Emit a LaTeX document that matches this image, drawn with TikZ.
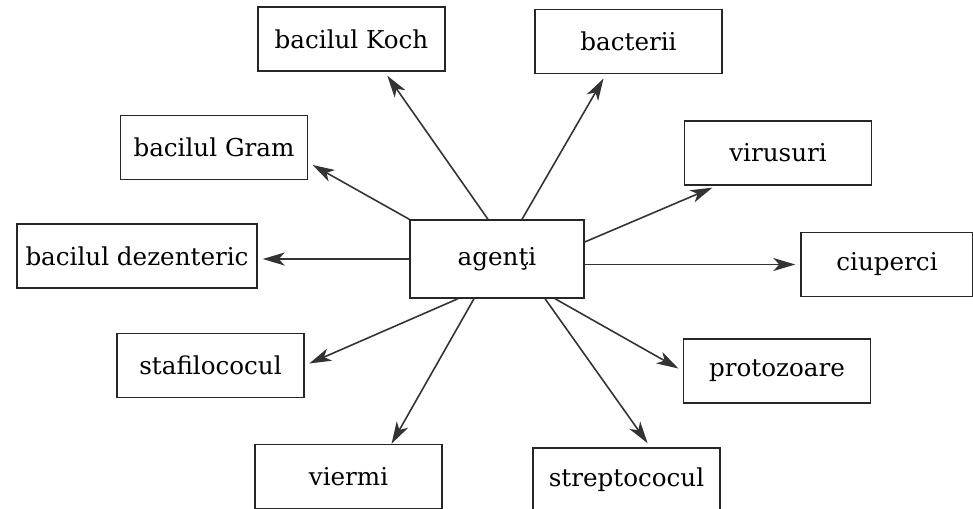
\documentclass[tikz,border=0pt]{standalone}
\usepackage{fontspec}
\setmainfont{DejaVu Serif}
\usetikzlibrary{arrows.meta,calc}

\begin{document}
\begin{tikzpicture}[x=0.2mm, y=-0.2mm, >={Stealth[length=4.4mm,width=2.6mm,inset=1.2mm]},
    font=\fontsize{14}{16}\selectfont,
    box/.style={draw=black!85, line width=0.8pt, minimum width=37.4mm, minimum height=12.8mm, inner sep=0pt},
    link/.style={->, draw=black!80, line width=0.9pt, shorten >=1mm}]
        \useasboundingbox (0,0) rectangle (973,509);
        % centre
        \node[box, minimum width=34.8mm, minimum height=15.6mm] (agenti) at (497,259) {agenţi};
        % top row
        \node[box] (koch) at (351.5,39) {bacilul Koch};
        \node[box] (bacterii) at (628.5,41.5) {bacterii};
        \node[box] (gram) at (214,147.5) {bacilul Gram};
        \node[box] (virusuri) at (778,153) {virusuri};
        % middle row
        \node[box, minimum width=48mm] (dezenteric) at (137,256) {bacilul dezenteric};
        \node[box, minimum width=34.4mm] (ciuperci) at (887,264.5) {ciuperci};
        % bottom row
        \node[box] (stafilo) at (210.5,365.5) {stafilococul};
        \node[box] (protozoare) at (777,371) {protozoare};
        \node[box] (viermi) at (348.5,476.5) {viermi};
        \node[box] (strepto) at (626.5,480) {streptococul};
        % arrows out of the centre
        \draw[link] ($(agenti.north)+(-9,0)$) -- ($(koch.south)+(33,0)$);
        \draw[link] ($(agenti.north)+(25,0)$) -- ($(bacterii.south)+(-22.5,0)$);
        \draw[link] (agenti.north west) -- ($(gram.east)+(0,15)$);
        \draw[link] ($(agenti.east)+(0,-17)$) -- ($(virusuri.south)+(-61,0)$);
        \draw[link] (agenti.east |- ciuperci.west) -- (ciuperci.west);
        \draw[link] (agenti.west) -- (agenti.west -| dezenteric.east);
        \draw[link] ($(agenti.south)+(-39,0)$) -- (stafilo.east);
        \draw[link, shorten >=0pt] ($(agenti.south)+(-23,0)$) -- ($(viermi.north)+(43,0)$);
        \draw[link] ($(agenti.south)+(48,0)$) -- ($(strepto.north)+(24,0)$);
        \draw[link] ($(agenti.south)+(58,0)$) -- (protozoare.west);
\end{tikzpicture}
\end{document}
